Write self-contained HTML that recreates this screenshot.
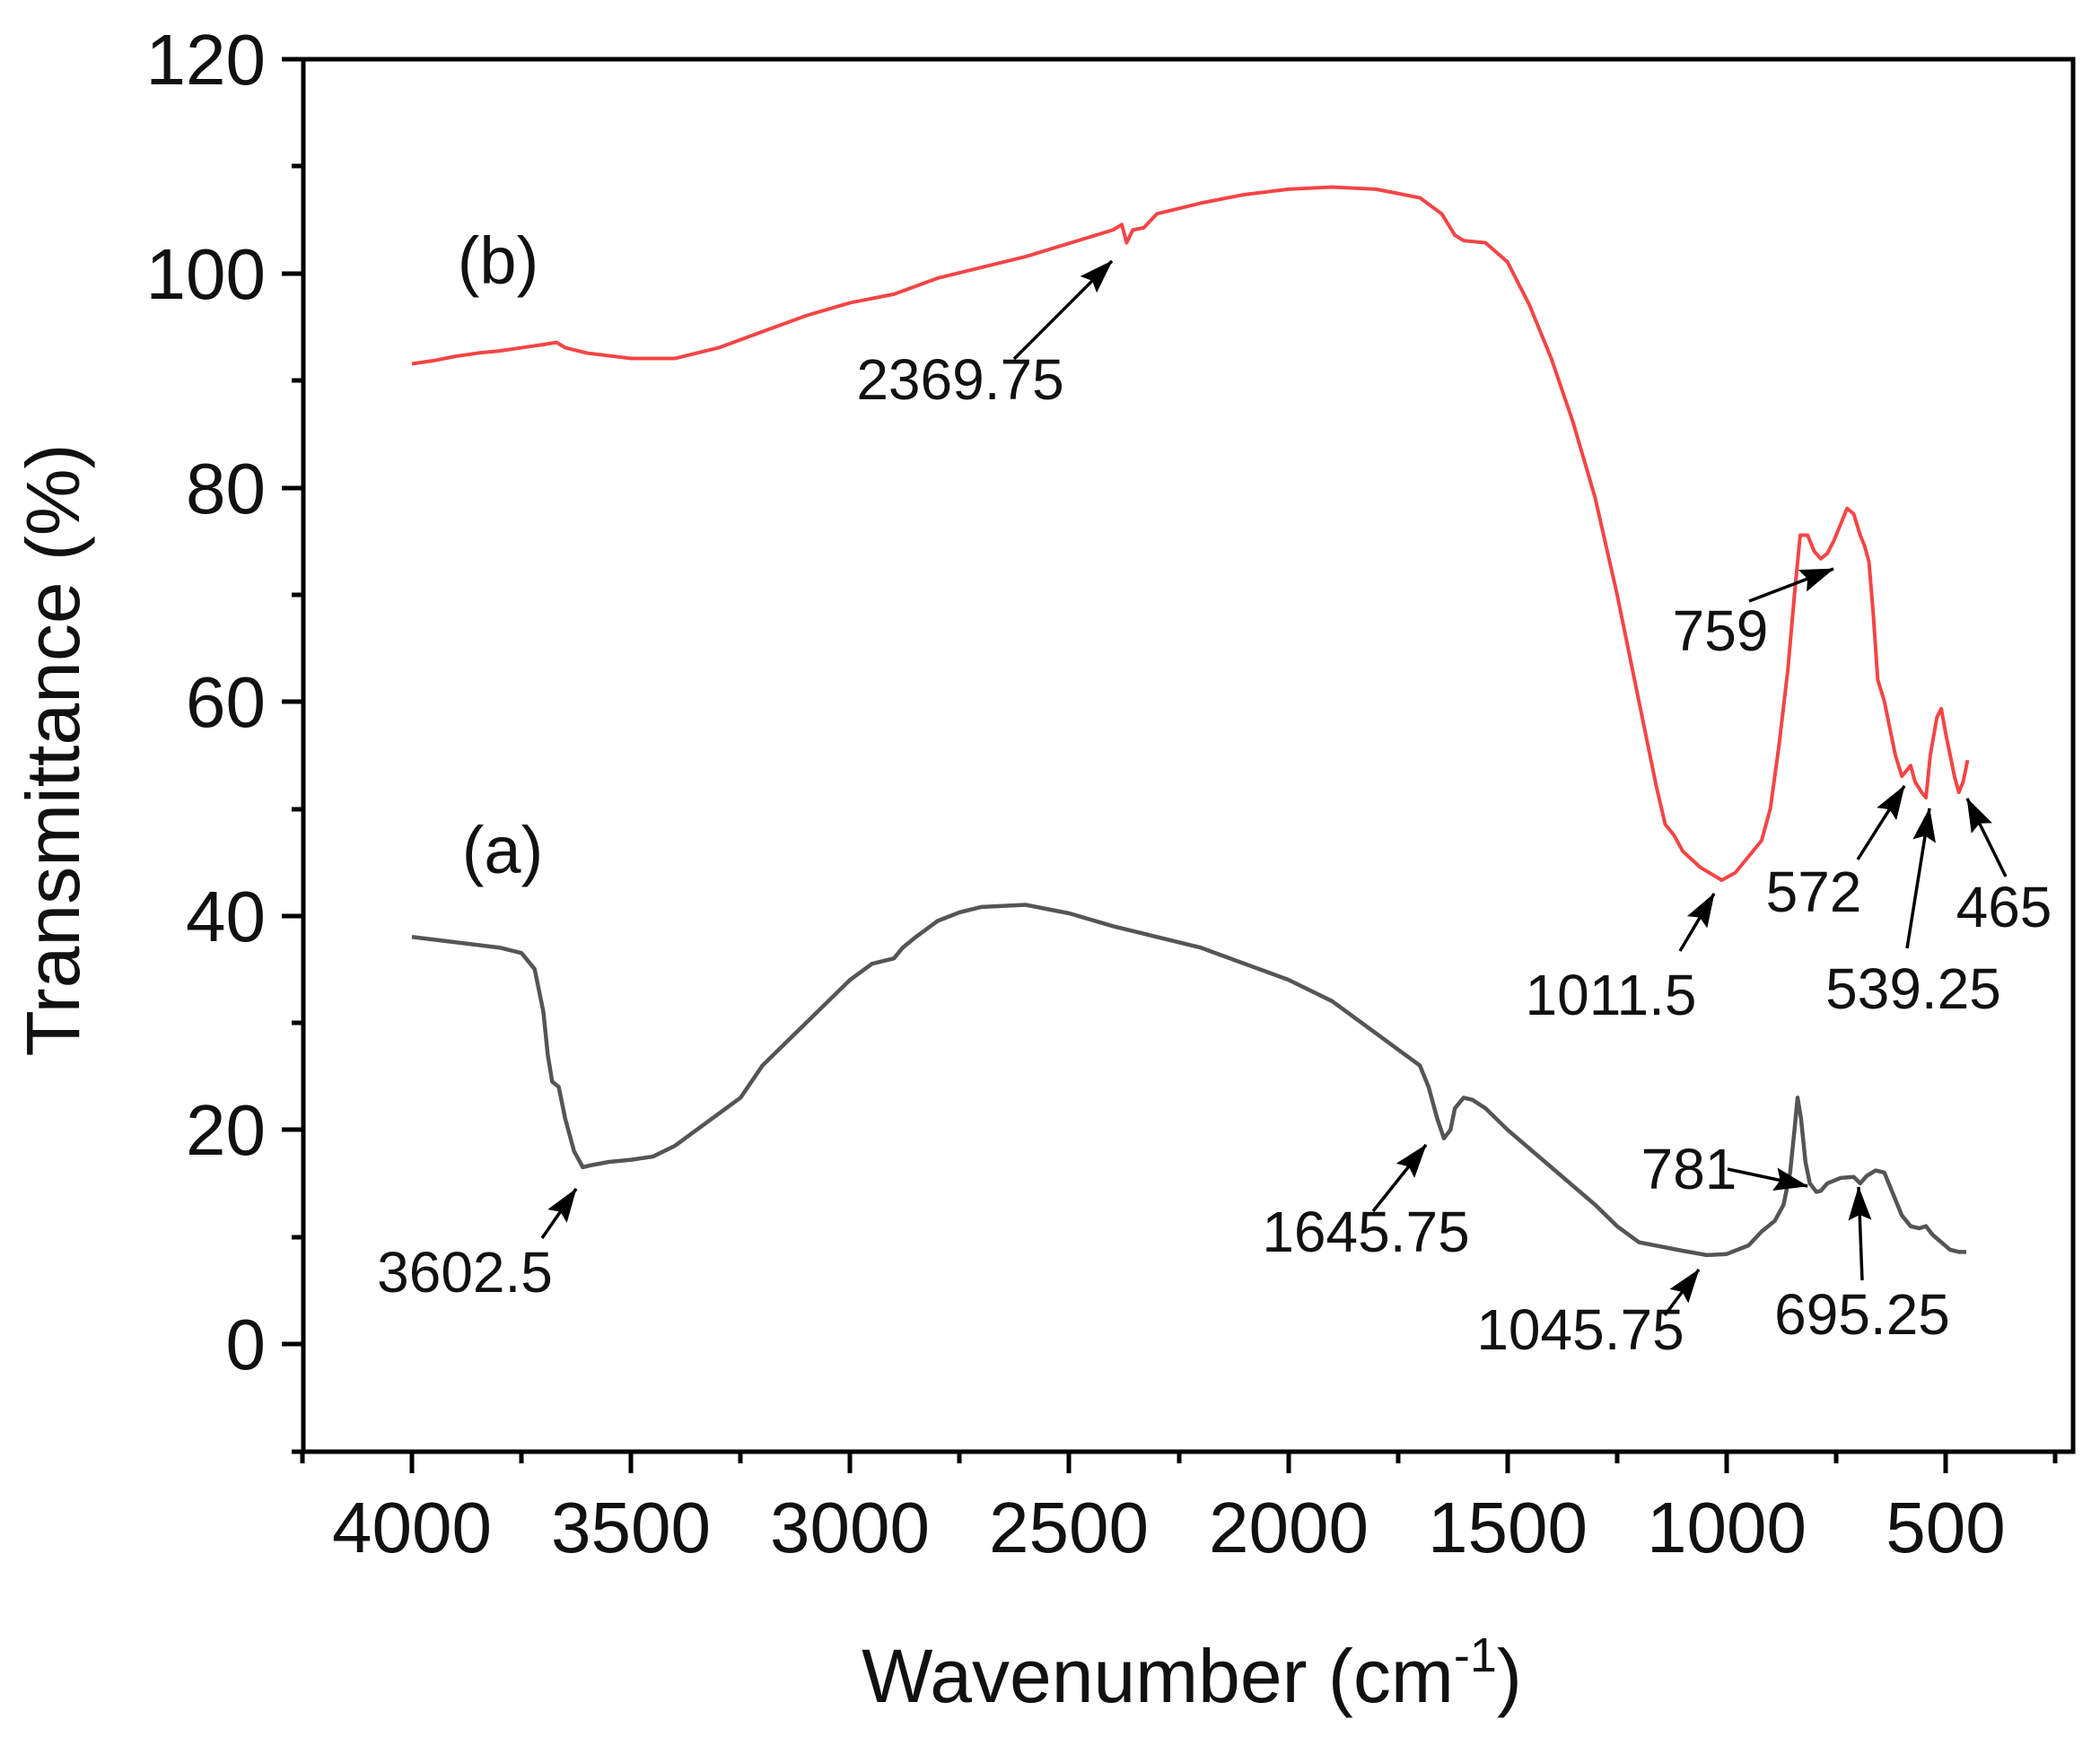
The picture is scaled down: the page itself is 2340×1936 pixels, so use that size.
<!DOCTYPE html>
<html><head><meta charset="utf-8"><style>
html,body{margin:0;padding:0;background:#fff;}
svg{display:block;}
text{font-family:"Liberation Sans",Arial,sans-serif;fill:#111;}
</style></head><body>
<svg width="2340" height="1936" viewBox="0 0 2340 1936" xmlns="http://www.w3.org/2000/svg">
<defs>
<marker id="ah" markerWidth="38" markerHeight="26" refX="37" refY="13" orient="auto" markerUnits="userSpaceOnUse" viewBox="0 0 38 26">
<path d="M0,0 L38,13 L0,26 L6,13 z" fill="#000"/>
</marker>
</defs>
<rect width="2340" height="1936" fill="#fff"/>

<g transform="matrix(-0.4883 0 0 -11.94 2412.2 1498)" fill="none" stroke-linejoin="round">
<polyline vector-effect="non-scaling-stroke" stroke="#555" stroke-width="4.5" points="
4000,38 3900,37.5 3800,37 3750,36.5 3720,35 3700,31 3690,27 3680,24.5 3665,24 3650,21 3630,18 3610,16.5 3590,16.7 3550,17 3500,17.2 3450,17.5 3400,18.5 3350,20 3300,21.5 3250,23 3200,26 3100,30 3000,34 2950,35.5 2900,36 2880,37 2850,38 2800,39.5 2750,40.3 2700,40.8 2600,41 2500,40.2 2400,39 2300,38 2200,37 2100,35.5 2000,34 1900,32 1800,29 1750,27.5 1700,26 1680,24 1660,21 1645,19.2 1630,20 1620,22 1600,23 1580,22.8 1550,22 1500,20 1400,16.5 1300,13 1250,11 1200,9.5 1100,8.7 1045,8.3 1000,8.4 950,9.2 920,10.5 890,11.5 870,13 855,16 845,20 838,23 830,21 820,17 810,15 795,14.2 785,14.3 770,15 740,15.5 710,15.6 695,15 680,15.7 660,16.2 640,16 620,14 600,12 580,11 560,10.8 545,11 530,10.2 510,9.5 490,8.8 470,8.6 453,8.6"/>
<polyline vector-effect="non-scaling-stroke" stroke="#f44545" stroke-width="4" points="
4000,91.5 3950,91.8 3900,92.2 3850,92.5 3800,92.7 3750,93 3700,93.3 3670,93.5 3650,93 3600,92.5 3500,92 3400,92 3300,93 3200,94.5 3100,96 3000,97.2 2900,98 2800,99.5 2600,101.5 2400,104 2380,104.5 2369,102.8 2355,104 2330,104.2 2300,105.5 2200,106.5 2100,107.3 2000,107.8 1900,108 1800,107.8 1700,107 1650,105.5 1620,103.5 1600,103 1550,102.8 1500,101 1450,97 1400,92 1350,86 1300,79 1250,70 1200,60 1160,52 1140,48.5 1120,47.5 1100,46 1060,44.5 1011,43.3 980,44 950,45.5 920,47 900,50 880,56 860,63 845,70 832,75.5 815,75.5 800,74 785,73.3 770,73.8 755,75 740,76.5 725,78 710,77.5 695,75.5 685,74.5 675,73 665,68 655,62 640,60 625,57 615,55 600,53 590,53.5 580,54 570,52.5 555,51.5 545,51 535,55 520,58.5 510,59.3 500,57 490,55 480,53 470,51.5 460,52.5 450,54.5"/>
</g>

<rect x="338" y="66" width="1972" height="1552" fill="none" stroke="#000" stroke-width="5"/>

<g stroke="#000" stroke-width="5">
<line x1="314" y1="66" x2="338" y2="66"/>
<line x1="314" y1="305" x2="338" y2="305"/>
<line x1="314" y1="544" x2="338" y2="544"/>
<line x1="314" y1="782" x2="338" y2="782"/>
<line x1="314" y1="1021" x2="338" y2="1021"/>
<line x1="314" y1="1259" x2="338" y2="1259"/>
<line x1="314" y1="1498" x2="338" y2="1498"/>
<line x1="325" y1="185" x2="338" y2="185"/>
<line x1="325" y1="424" x2="338" y2="424"/>
<line x1="325" y1="663" x2="338" y2="663"/>
<line x1="325" y1="902" x2="338" y2="902"/>
<line x1="325" y1="1140" x2="338" y2="1140"/>
<line x1="325" y1="1379" x2="338" y2="1379"/>
<line x1="325" y1="1618" x2="338" y2="1618"/>
</g>
<g font-size="80" text-anchor="end">
<text x="296" y="94">120</text>
<text x="296" y="333">100</text>
<text x="296" y="572">80</text>
<text x="296" y="810">60</text>
<text x="296" y="1049">40</text>
<text x="296" y="1287">20</text>
<text x="296" y="1526">0</text>
</g>

<g stroke="#000" stroke-width="5">
<line x1="459" y1="1618" x2="459" y2="1642"/>
<line x1="703" y1="1618" x2="703" y2="1642"/>
<line x1="947" y1="1618" x2="947" y2="1642"/>
<line x1="1191" y1="1618" x2="1191" y2="1642"/>
<line x1="1436" y1="1618" x2="1436" y2="1642"/>
<line x1="1680" y1="1618" x2="1680" y2="1642"/>
<line x1="1924" y1="1618" x2="1924" y2="1642"/>
<line x1="2168" y1="1618" x2="2168" y2="1642"/>
<line x1="337" y1="1618" x2="337" y2="1631"/>
<line x1="581" y1="1618" x2="581" y2="1631"/>
<line x1="825" y1="1618" x2="825" y2="1631"/>
<line x1="1069" y1="1618" x2="1069" y2="1631"/>
<line x1="1314" y1="1618" x2="1314" y2="1631"/>
<line x1="1558" y1="1618" x2="1558" y2="1631"/>
<line x1="1802" y1="1618" x2="1802" y2="1631"/>
<line x1="2046" y1="1618" x2="2046" y2="1631"/>
<line x1="2290" y1="1618" x2="2290" y2="1631"/>
</g>
<g font-size="80" text-anchor="middle">
<text x="459" y="1730">4000</text>
<text x="703" y="1730">3500</text>
<text x="947" y="1730">3000</text>
<text x="1191" y="1730">2500</text>
<text x="1436" y="1730">2000</text>
<text x="1680" y="1730">1500</text>
<text x="1924" y="1730">1000</text>
<text x="2168" y="1730">500</text>
</g>

<text x="1328" y="1897" font-size="84" text-anchor="middle">Wavenumber (cm<tspan font-size="54" dy="-34">-1</tspan><tspan dy="34">)</tspan></text>
<text transform="translate(88,836) rotate(-90)" font-size="84" text-anchor="middle">Transmittance (%)</text>

<text x="555" y="316" font-size="74" text-anchor="middle">(b)</text>
<text x="560" y="973" font-size="74" text-anchor="middle">(a)</text>

<g font-size="64" text-anchor="middle">
<text x="1070" y="445">2369.75</text>
<text x="518" y="1440">3602.5</text>
<text x="1522" y="1395">1645.75</text>
<text x="1761" y="1504">1045.75</text>
<text x="1882" y="1325">781</text>
<text x="2075" y="1487">695.25</text>
<text x="1917" y="725">759</text>
<text x="1795" y="1131">1011.5</text>
<text x="2021" y="1016">572</text>
<text x="2132" y="1124">539.25</text>
<text x="2233" y="1033">465</text>
</g>
<g stroke="#000" stroke-width="3.5" marker-end="url(#ah)" fill="none">
<line x1="1130" y1="400" x2="1239" y2="291"/>
<line x1="604" y1="1380" x2="642" y2="1325"/>
<line x1="1530" y1="1350" x2="1589" y2="1276"/>
<line x1="1855" y1="1466" x2="1893" y2="1415"/>
<line x1="1925" y1="1303" x2="2014" y2="1322"/>
<line x1="2075" y1="1427" x2="2071" y2="1323"/>
<line x1="1949" y1="670" x2="2043" y2="634"/>
<line x1="1872" y1="1060" x2="1910" y2="996"/>
<line x1="2070" y1="958" x2="2122" y2="876"/>
<line x1="2125" y1="1057" x2="2150" y2="901"/>
<line x1="2235" y1="977" x2="2192" y2="890"/>
</g>
</svg>
</body></html>
